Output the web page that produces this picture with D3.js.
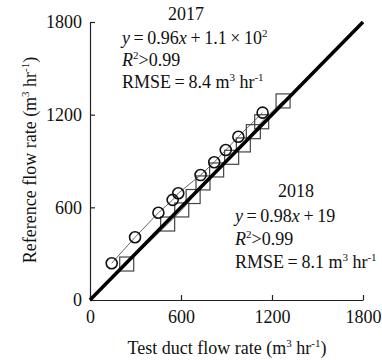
<!DOCTYPE html>
<html><head><meta charset="utf-8">
<script src="https://cdn.jsdelivr.net/npm/d3@7"></script>
<style>
body{margin:0;background:#fff;}
text{font-family:"Liberation Serif","Times New Roman",serif;fill:#111;}
</style></head>
<body><svg id="c" width="382" height="360"></svg>
<script>
const ticks = [0, 600, 1200, 1800];
const x2017 = [143, 297, 451, 545, 582, 729, 819, 895, 978, 1138];
const y2017 = [238, 406, 565, 648, 691, 809, 892, 971, 1057, 1213];
const x2018 = [242, 512, 605, 680, 745, 835, 934, 1011, 1077, 1132, 1273];
const y2018 = [233, 492, 583, 670, 758, 842, 924, 1004, 1090, 1154, 1289];
const oneToOne = [0, 1800];

const svg = d3.select("#c");
const m = {l: 90, r: 363, t: 22, b: 300};
const x = d3.scaleLinear().domain([0, 1800]).range([m.l, m.r]);
const y = d3.scaleLinear().domain([0, 1800]).range([m.b, m.t]);
const FS = 18, SS = 11;

// axes
const gx = svg.append("g").attr("transform", `translate(0,${m.b})`)
  .call(d3.axisBottom(x).tickValues(ticks).tickFormat(d3.format("d")).tickSizeInner(-5).tickSizeOuter(0).tickPadding(10));
const gy = svg.append("g").attr("transform", `translate(${m.l},0)`)
  .call(d3.axisLeft(y).tickValues(ticks).tickFormat(d3.format("d")).tickSizeInner(-5).tickSizeOuter(0).tickPadding(8));
[gx, gy].forEach(g => {
  g.selectAll("path,line").attr("stroke", "#222").attr("stroke-width", 1.2);
  g.selectAll("text").attr("font-size", FS).attr("font-family", "Liberation Serif").attr("fill", "#111");
});

// connecting lines
const line = d3.line().x(d => x(d[0])).y(d => y(d[1]));
const d17 = x2017.map((v, i) => [v, y2017[i]]);
const d18 = x2018.map((v, i) => [v, y2018[i]]);
svg.append("path").datum(d18).attr("d", line).attr("fill", "none").attr("stroke", "#666").attr("stroke-width", 1);
svg.append("path").datum(d17).attr("d", line).attr("fill", "none").attr("stroke", "#666").attr("stroke-width", 1);

// squares
const S = 14;
svg.selectAll("rect.s").data(d18).enter().append("rect")
  .attr("x", d => x(d[0]) - S / 2).attr("y", d => y(d[1]) - S / 2)
  .attr("width", S).attr("height", S)
  .attr("fill", "none").attr("stroke", "#444").attr("stroke-width", 1.2);

// 1:1 line
svg.append("path").datum(oneToOne.map(v => [v, v])).attr("d", line)
  .attr("stroke", "#000").attr("stroke-width", 3.5).attr("fill", "none");

// circles
svg.selectAll("circle.c").data(d17).enter().append("circle")
  .attr("cx", d => x(d[0])).attr("cy", d => y(d[1])).attr("r", 5.5)
  .attr("fill", "none").attr("stroke", "#111").attr("stroke-width", 1.6);

function sup(t, s) { t.append("tspan").attr("dy", -7).attr("font-size", SS).text(s); }
function base(t, s) { t.append("tspan").attr("dy", 7).text(s); }

function unitLine(xx, yy, pre) {
  const el = svg.append("text").attr("x", xx).attr("y", yy).attr("font-size", FS);
  el.append("tspan").text(pre + " m");
  sup(el, "3");
  base(el, " hr");
  sup(el, "-1");
  return el;
}

// 2017 block
svg.append("text").attr("x", 186).attr("y", 20).attr("text-anchor", "middle").attr("font-size", FS).text("2017");
{
  const t = svg.append("text").attr("x", 122).attr("y", 44).attr("font-size", FS);
  t.append("tspan").attr("font-style", "italic").text("y");
  t.append("tspan").text("\u2009=\u20090.96");
  t.append("tspan").attr("font-style", "italic").text("x");
  t.append("tspan").text("\u2009+\u20091.1\u2009\u00d7\u200910");
  sup(t, "2");
}
{
  const t = svg.append("text").attr("x", 122).attr("y", 66).attr("font-size", FS);
  t.append("tspan").attr("font-style", "italic").text("R");
  sup(t, "2");
  base(t, ">0.99");
}
unitLine(122, 88, "RMSE\u2009=\u20098.4");

// 2018 block
svg.append("text").attr("x", 296).attr("y", 197).attr("text-anchor", "middle").attr("font-size", FS).text("2018");
{
  const t = svg.append("text").attr("x", 235).attr("y", 222).attr("font-size", FS);
  t.append("tspan").attr("font-style", "italic").text("y");
  t.append("tspan").text("\u2009=\u20090.98");
  t.append("tspan").attr("font-style", "italic").text("x");
  t.append("tspan").text("\u2009+\u200919");
}
{
  const t = svg.append("text").attr("x", 235).attr("y", 245).attr("font-size", FS);
  t.append("tspan").attr("font-style", "italic").text("R");
  sup(t, "2");
  base(t, ">0.99");
}
unitLine(235, 268, "RMSE\u2009=\u20098.1");

// axis titles
{
  const t = svg.append("text").attr("x", 227).attr("y", 354).attr("text-anchor", "middle").attr("font-size", FS);
  t.append("tspan").text("Test duct flow rate (m");
  sup(t, "3"); base(t, " hr"); sup(t, "-1"); base(t, ")");
}
{
  const t = svg.append("text").attr("transform", "translate(36,160) rotate(-90)").attr("text-anchor", "middle").attr("font-size", FS);
  t.append("tspan").text("Reference flow rate (m");
  sup(t, "3"); base(t, " hr"); sup(t, "-1"); base(t, ")");
}
</script></body></html>
